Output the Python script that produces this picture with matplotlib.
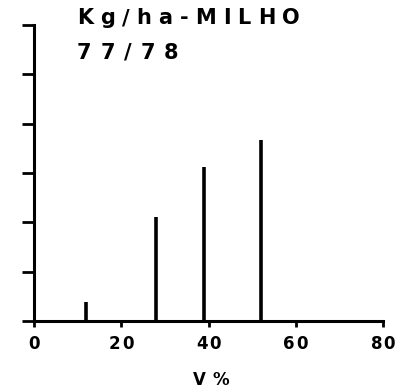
import matplotlib
matplotlib.use("Agg")
import matplotlib.pyplot as plt

# data
v_percent = [12, 28, 39, 52]
yield_kg = [0.38, 2.1, 3.13, 3.66]
x_ticks = [0, 20, 40, 60, 80]
y_ticks = [0, 1, 2, 3, 4, 5, 6]
title_lines = ["Kg/ha-MILHO", "77/78"]
x_label = "V %"

W, H = 409, 391
fig = plt.figure(figsize=(W / 100, H / 100), dpi=100)
ax = fig.add_axes([34 / W, 1 - 321 / H, (383 - 34) / W, (321 - 25) / H])

ax.vlines(v_percent, 0, yield_kg, colors="black", linewidth=2.6, capstyle="butt")
ax.set_xlim(0, 80)
ax.set_ylim(0, 6)
for s in ["top", "right"]:
    ax.spines[s].set_visible(False)
for s in ["left", "bottom"]:
    ax.spines[s].set_linewidth(2.2)
ax.set_xticks(x_ticks)
ax.set_yticks(y_ticks)
ax.set_yticklabels([])
ax.set_xticklabels([])
ax.tick_params(axis="y", direction="out", length=9, width=2)
ax.tick_params(axis="x", direction="out", length=4, width=2)

fig.canvas.draw()
renderer = fig.canvas.get_renderer()


def tracked(x, y, s, size, track, ha="left"):
    widths = []
    for ch in s:
        t = fig.text(0, 0, ch, fontsize=size, fontweight="bold", family="DejaVu Sans")
        widths.append(t.get_window_extent(renderer).width if ch != " " else size * 0.4)
        t.remove()
    total = sum(widths) + track * (len(s) - 1)
    if ha == "center":
        x = x - total / 2
    cx = x
    for ch, w in zip(s, widths):
        fig.text(cx / W, 1 - y / H, ch, fontsize=size, fontweight="bold",
                 family="DejaVu Sans", va="center_baseline", ha="left")
        cx += w + track


tracked(77, 16, title_lines[0], 15, 7.0)
tracked(77, 51, title_lines[1], 15, 9.0)

for xv in x_ticks:
    px = 34 + (383 - 34) * xv / 80
    tracked(px, 342, str(xv), 12, 1.5, ha="center")

tracked(211, 378, x_label, 12, 1.0, ha="center")

fig.savefig("out.png", dpi=100)
